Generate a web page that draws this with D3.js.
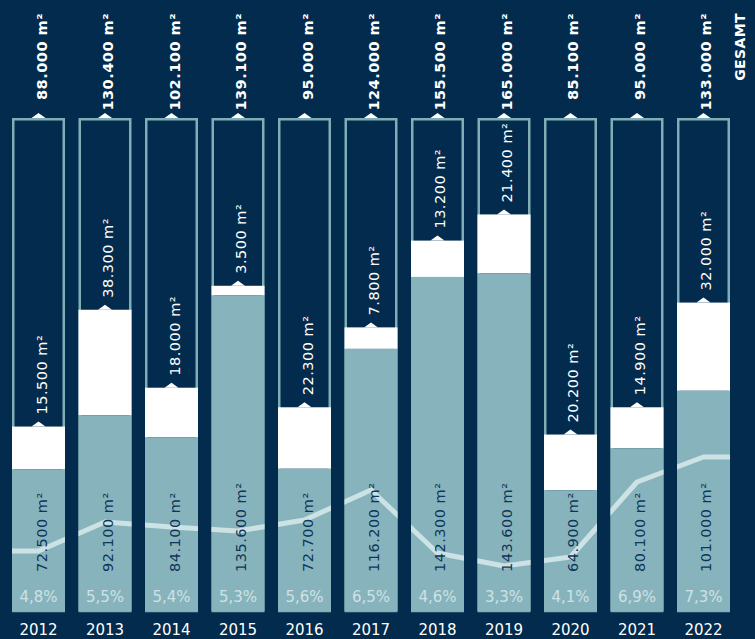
<!DOCTYPE html>
<html>
<head>
<meta charset="utf-8">
<script src="https://cdn.jsdelivr.net/npm/d3@7"></script>
<style>
  html, body { margin: 0; padding: 0; background: #022b4d; }
  svg { display: block; }
  text { font-family: "DejaVu Sans", sans-serif; }
</style>
</head>
<body>
<svg id="chart"></svg>
<script>
const years = ["2012", "2013", "2014", "2015", "2016", "2017", "2018", "2019", "2020", "2021", "2022"];
const baseValues = [72500, 92100, 84100, 135600, 72700, 116200, 142300, 143600, 64900, 80100, 101000];
const addValues = [15500, 38300, 18000, 3500, 22300, 7800, 13200, 21400, 20200, 14900, 32000];
const totals = [88000, 130400, 102100, 139100, 95000, 124000, 155500, 165000, 85100, 95000, 133000];
const percentLabels = ["4,8%", "5,5%", "5,4%", "5,3%", "5,6%", "6,5%", "4,6%", "3,3%", "4,1%", "6,9%", "7,3%"];
// trend line (index units)
const trendLine = [3.0, 4.45, 4.2, 4.0, 4.55, 6.05, 2.9, 2.25, 2.7, 6.45, 7.7];

const width = 755, height = 639;
const plotBottom = 611;
const navy = "#022b4d";
const teal = "#87b4bc";

const svg = d3.select("#chart").attr("width", width).attr("height", height);
svg.append("rect").attr("width", width).attr("height", height).attr("fill", navy);

const x = d3.scaleBand().domain(years).range([12, 730]).paddingInner(0.203).paddingOuter(0);
const y = d3.scaleLinear().domain([0, 200000]).range([669, 118]);
const lineY = d3.scaleLinear().domain([0, 10]).range([611, 411]);

const fmt = v => d3.format(",")(v).replace(/,/g, ".") + " m\u00b2";

const data = years.map((yr, i) => ({
    year: yr, base: baseValues[i], add: addValues[i], total: totals[i],
    pct: percentLabels[i], trend: trendLine[i]
}));

const bw = x.bandwidth();
const cx = d => x(d.year) + bw / 2;

// frames
svg.selectAll(".frame").data(data).enter().append("rect")
    .attr("class", "frame")
    .attr("x", d => x(d.year) + 1.25)
    .attr("y", y(200000) + 1.25)
    .attr("width", bw - 2.5)
    .attr("height", plotBottom - y(200000) - 1.25)
    .attr("fill", "none")
    .attr("stroke", "#7eafb7")
    .attr("stroke-width", 2.5);

// white (added) part
svg.selectAll(".add").data(data).enter().append("rect")
    .attr("class", "add")
    .attr("x", d => x(d.year))
    .attr("y", d => y(d.base + d.add))
    .attr("width", bw)
    .attr("height", d => y(d.base) - y(d.base + d.add))
    .attr("fill", "#ffffff");

// base part
svg.selectAll(".base").data(data).enter().append("rect")
    .attr("class", "base")
    .attr("x", d => x(d.year))
    .attr("y", d => y(d.base))
    .attr("width", bw)
    .attr("height", d => plotBottom - y(d.base))
    .attr("fill", teal);

// clip for the trend line
const clip = svg.append("clipPath").attr("id", "baseClip");
clip.selectAll("rect").data(data).enter().append("rect")
    .attr("x", d => x(d.year))
    .attr("y", d => y(d.base))
    .attr("width", bw)
    .attr("height", d => plotBottom - y(d.base));

const linePts = [[x.range()[0], lineY(data[0].trend)]]
    .concat(data.map(d => [cx(d), lineY(d.trend)]))
    .concat([[x.range()[1], lineY(data[data.length - 1].trend)]]);

svg.append("path")
    .attr("d", d3.line()(linePts))
    .attr("fill", "none")
    .attr("stroke", "#cde2e5")
    .attr("stroke-width", 5)
    .attr("stroke-linejoin", "round")
    .attr("clip-path", "url(#baseClip)");

// small triangles
function notch(yPos) {
    return d => `M${cx(d) - 7},${yPos(d)} L${cx(d)},${yPos(d) - 5} L${cx(d) + 7},${yPos(d)} Z`;
}
svg.selectAll(".topNotch").data(data).enter().append("path")
    .attr("d", notch(() => y(200000)))
    .attr("fill", "#ffffff");
svg.selectAll(".addNotch").data(data).enter().append("path")
    .attr("d", notch(d => y(d.base + d.add)))
    .attr("fill", "#ffffff");

// totals on top
svg.selectAll(".totalLabel").data(data).enter().append("text")
    .attr("transform", d => `translate(${cx(d) + 8},13) rotate(-90)`)
    .attr("text-anchor", "end")
    .attr("fill", "#ffffff")
    .attr("font-size", 14.5)
    .attr("font-weight", 600)
    .attr("letter-spacing", 0.5)
    .text(d => fmt(d.total));

svg.append("text")
    .attr("transform", `translate(745,13) rotate(-90)`)
    .attr("text-anchor", "end")
    .attr("fill", "#ffffff")
    .attr("font-size", 14)
    .attr("font-weight", 600)
    .attr("letter-spacing", 0.4)
    .text("GESAMT");

// added labels
svg.selectAll(".addLabel").data(data).enter().append("text")
    .attr("transform", d => `translate(${cx(d) + 8},${y(d.base + d.add) - 12}) rotate(-90)`)
    .attr("text-anchor", "start")
    .attr("fill", "#ffffff")
    .attr("font-size", 14.5)
    .attr("letter-spacing", 0.5)
    .text(d => fmt(d.add));

// base labels
svg.selectAll(".baseLabel").data(data).enter().append("text")
    .attr("transform", d => `translate(${cx(d) + 8},572) rotate(-90)`)
    .attr("text-anchor", "start")
    .attr("fill", "#0f3558")
    .attr("font-size", 14.5)
    .attr("letter-spacing", 0.5)
    .text(d => fmt(d.base));

// percentages
svg.selectAll(".pctLabel").data(data).enter().append("text")
    .attr("x", d => cx(d))
    .attr("y", 602)
    .attr("text-anchor", "middle")
    .attr("fill", "#cfe1e4")
    .attr("font-size", 15)
    .text(d => d.pct);

// years
svg.selectAll(".yearLabel").data(data).enter().append("text")
    .attr("x", d => cx(d))
    .attr("y", 635)
    .attr("text-anchor", "middle")
    .attr("fill", "#ffffff")
    .attr("font-size", 15)
    .text(d => d.year);
</script>
</body>
</html>
